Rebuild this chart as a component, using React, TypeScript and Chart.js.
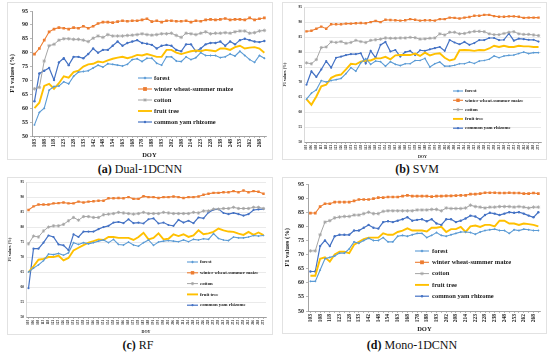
import React, { useEffect, useRef } from "react";
import { Chart, registerables } from "chart.js";

Chart.register(...registerables);

// ---------- data ----------
const doy = [103, 106, 108, 113, 118, 121, 123, 126, 128, 131, 133, 138, 142, 146, 148, 151, 154, 158, 163, 166, 168, 173, 178, 183, 188, 191, 193, 198, 202, 206, 208, 211, 214, 218, 223, 226, 228, 233, 238, 243, 248, 251, 253, 258, 262, 266, 268, 273];

const seriesNames = ["forest", "winter wheat-summer maize", "cotton", "fruit tree", "common yam rhizome"];
const yTicks = [50, 55, 60, 65, 70, 75, 80, 85, 90, 95];

// (a) Dual-1DCNN
const aForest = [54, 58.5, 60, 66.5, 67.8, 68, 69.5, 68.8, 71.5, 73, 73.2, 73.5, 74.5, 75.5, 74.8, 76, 75.8, 75.5, 75.2, 75.8, 77.5, 77.8, 76.8, 78, 78, 76.2, 75.5, 78.5, 78.5, 77, 76.8, 78.5, 77.5, 78.2, 80, 79, 79, 79, 78.2, 78.5, 79.5, 78.8, 80.5, 79, 77.5, 76.5, 79, 78];
const aWinter = [79.5, 81.5, 84.5, 87.5, 88.5, 89, 88.8, 88.5, 89, 88.8, 89.5, 88.8, 89.5, 90.5, 91, 91, 90.8, 91.2, 91.5, 91.3, 91.5, 91.5, 91.8, 92.2, 91.2, 91.5, 91, 91.5, 91.5, 91.3, 91.3, 91.5, 91, 91.5, 91.3, 91.8, 92, 91.8, 92, 92.3, 91.8, 92, 92, 91.8, 92.5, 91.8, 92.2, 92.5];
const aCotton = [67, 67.5, 77, 82.5, 83, 84.5, 85, 85, 84.8, 84.8, 84.5, 84, 85.2, 86, 85.5, 86.5, 86, 86, 86, 86.2, 86.3, 86.5, 86.8, 86.5, 86.3, 86.5, 86.8, 86.8, 87, 86.2, 85.5, 87, 86.8, 86.5, 87, 87.5, 86.8, 87, 87, 87.2, 87, 87.5, 87.8, 87.8, 87, 87.2, 87.8, 88];
const aFruit = [60, 62, 68, 68.8, 67, 69, 71.5, 71, 73, 73.5, 75, 75.8, 76, 76.8, 76.5, 77.2, 77.8, 78.2, 78.5, 78, 78.5, 79.2, 79, 79.5, 79, 78.5, 78.5, 81, 81, 80, 79.5, 80, 80.5, 80.8, 80.5, 81, 80.8, 80.5, 81.5, 81.5, 81, 82, 82.5, 81.5, 81.8, 82, 81.5, 80];
const aYam = [62.5, 72.5, 73.5, 74.5, 70.2, 76.5, 78, 75.5, 78.5, 78.5, 78, 79.5, 81.5, 80, 81, 81, 82.5, 84, 82.5, 83.5, 84, 84.5, 83.5, 83.2, 82.8, 81.5, 82.5, 82.8, 82.5, 81, 80.5, 83, 83, 80.5, 81.5, 83, 83.5, 83.5, 84, 82.5, 84, 83, 84.5, 85, 84.5, 84, 83.8, 84.2];

// (b) SVM
const bForest = [64.3, 66.3, 67.4, 70.5, 70, 70.5, 70.8, 71.2, 72.8, 74.8, 73.6, 76.4, 77.8, 75.9, 77, 76.8, 75.3, 76.8, 75.9, 75.5, 76.1, 76.1, 77.2, 77.2, 77.9, 75, 76.1, 76.7, 75.3, 75.3, 75.6, 76.1, 76.1, 76.7, 76.2, 77, 77.2, 77.6, 78.7, 78.1, 78.7, 78.9, 79, 79.5, 80, 79.5, 79.8, 79.8];
const bWinter = [86.9, 87.1, 87.8, 88.5, 87.8, 89.3, 89.3, 89.3, 89.5, 89.5, 89.6, 89.7, 89.6, 90, 90.4, 90, 90.8, 90.7, 90.6, 90.5, 90.6, 91, 90.8, 90.5, 90.6, 90.6, 90.5, 91, 91, 91.5, 91.4, 91.2, 91.5, 91.7, 92.1, 92.1, 92.4, 92.4, 92, 91.8, 91.8, 91.9, 91.9, 91.8, 91.4, 91.5, 91.5, 91.5];
const bCotton = [76.4, 76.1, 77.5, 81.5, 81.7, 83.4, 83.2, 83.5, 82.9, 83.2, 83.9, 83.5, 83.2, 83.9, 84.1, 84.3, 84.7, 84.6, 84.6, 84.7, 84.7, 84.9, 84.8, 84.3, 84.4, 84.6, 84.7, 86.1, 85.7, 86.6, 86.6, 86.1, 86.2, 86.6, 86.9, 86.9, 86.8, 86.1, 85.8, 85.8, 86.2, 86.6, 86.8, 86.1, 85.9, 85.9, 85.7, 85.5];
const bFruit = [64.3, 62.4, 65.2, 68.6, 69.1, 71.4, 72.2, 72.5, 74.2, 76.1, 75.9, 76.8, 77.2, 77.2, 77.9, 77.9, 78.4, 77.6, 78.9, 79, 79, 79, 79.5, 78.7, 79.8, 78.9, 79.4, 79.6, 78.1, 77.2, 77.6, 80.6, 80.7, 80.6, 80.4, 80.7, 80.6, 81.2, 82.1, 81.7, 82.1, 81.7, 81.7, 82.1, 81.9, 81.9, 81.7, 81.7];
const bYam = [69.1, 73.6, 71.7, 74.2, 77, 74.8, 78.1, 78.5, 79, 79.3, 79.3, 79.6, 76.2, 80.4, 78.1, 82.4, 83.4, 80.2, 80.7, 78.5, 80, 80.4, 79, 80.6, 80.4, 80.9, 81.3, 81.7, 80.4, 84, 83.2, 82.6, 83.4, 82.4, 83, 84, 84, 84.7, 84.7, 84, 84.1, 86.2, 83.8, 84.5, 84.3, 84.1, 84.1, 83.5];

// (c) RF
const cForest = [65, 66.3, 67.4, 68.8, 71, 70.8, 71.2, 70.6, 71.4, 74.8, 74.2, 74.8, 74.4, 74.8, 75.3, 75.7, 74.8, 75.9, 74.2, 74, 75, 74, 73.6, 74.8, 75.7, 73.9, 75, 75.3, 75.5, 75.3, 75.1, 75.7, 75.1, 75.9, 75.7, 76.1, 75.9, 77.8, 76.2, 75.7, 75.5, 76.7, 76.4, 76.4, 76.7, 77.2, 77, 77.2];
const cWinter = [85.7, 86.9, 87.5, 87.5, 87.5, 87.9, 88, 88.2, 87.9, 87.9, 88.5, 88.2, 88.5, 88.6, 88.8, 88.8, 89.6, 89.6, 89.7, 89.6, 90, 89.4, 89.4, 90.3, 90, 90, 89.7, 90, 90, 90.2, 90, 89.7, 90, 90, 90.2, 90.8, 91.1, 91.4, 91.4, 91.6, 91.6, 92, 91.6, 92.2, 91.6, 92, 91.8, 91.1];
const cCotton = [74.4, 77, 76.7, 78.7, 80, 80.4, 80.4, 80.9, 82.1, 83.2, 82.3, 83.5, 83.5, 83.2, 83.2, 84.1, 84.3, 84.5, 84.9, 84.7, 84.5, 84.3, 84.5, 84.9, 84.5, 84.5, 84.5, 84.9, 84.7, 84.5, 84.5, 84.5, 84.5, 84.9, 84.7, 85.4, 85.4, 86, 86, 86.2, 86.2, 86.6, 86.2, 86.2, 86.2, 86.6, 86.6, 86.2];
const cFruit = [65, 66.9, 69.1, 69.4, 70, 70, 70.5, 68.9, 69.7, 72.2, 73.1, 74, 74.8, 75.3, 75.9, 75.7, 76.7, 76.7, 76.4, 76.4, 76.4, 75.7, 76.7, 78.1, 75.9, 76.4, 77.9, 75.9, 76.1, 77.6, 77, 77.6, 76.7, 77.2, 78.9, 77.6, 77.9, 78.4, 79.5, 78.9, 78.5, 78.4, 77.8, 77.4, 78.4, 77.4, 78.2, 77.3];
const cYam = [59.6, 72.8, 72.8, 74.8, 77.2, 76.7, 74.2, 73.9, 72.3, 77.6, 76.7, 78.5, 78.5, 78.5, 79.3, 80, 80.4, 81.5, 81.7, 81.3, 82.6, 81.3, 81.5, 81.2, 82.6, 82.9, 81.2, 81.5, 80.7, 80.4, 82.4, 81.5, 82.1, 81.3, 83.2, 82.9, 84.9, 85.8, 86, 84.7, 84.3, 84.7, 84.3, 83.8, 84.3, 85.7, 85.9, 86];

// (d) Mono-1DCNN
const dForest = [60.5, 60.5, 64.5, 68.5, 69, 69.5, 70.5, 70.5, 72, 74.5, 74, 75, 75.8, 75, 75, 76, 74.5, 74.5, 76.5, 76.8, 76.5, 77, 77.5, 77.5, 76, 76.8, 77.8, 76.8, 76.5, 77, 77.5, 78, 78, 77.8, 77.2, 78, 78.5, 78.8, 79, 78.5, 78.5, 77.5, 78.8, 78.5, 79, 78.8, 78.5, 78.5];
const dWinter = [84.7, 84.7, 87, 88, 88, 88.6, 88.6, 88.6, 88.6, 89, 89.5, 89.5, 89.5, 89.8, 90.2, 90.2, 90.4, 90.4, 90.4, 90.7, 91, 90.7, 90.7, 90.7, 90.7, 90.5, 90.7, 90.7, 90.8, 90.8, 90.9, 91, 91, 91.4, 91.4, 91.6, 91.9, 91.9, 91.9, 91.8, 91.8, 91.9, 91.8, 91.8, 91.6, 91.6, 91.8, 91.6];
const dCotton = [71.3, 71.3, 77, 81.5, 82, 83, 83.3, 83.5, 83.5, 84, 84, 84.5, 85, 84.5, 84.5, 85.3, 85.5, 85.5, 85.5, 85.5, 85.5, 85.5, 85.8, 85.8, 85.8, 86, 86, 85.5, 86.5, 86.3, 86.3, 86.3, 86.5, 87.5, 87, 86.8, 86.5, 86.8, 86.8, 87, 87, 87, 86.8, 87, 86.8, 86.5, 86.8, 86.8];
const dFruit = [62.5, 62.5, 68.5, 69, 67.5, 70, 71, 71, 70.5, 73.5, 74.5, 75.5, 76, 76, 76, 77.5, 77, 77, 78, 78.5, 79.3, 78.5, 78.5, 78.5, 78.2, 79.5, 79.5, 79.8, 78, 79, 79, 79.8, 78, 80, 80.3, 79.8, 80.5, 80.5, 80, 82, 82, 81, 81, 80.5, 81, 80.8, 80.5, 80];
const dYam = [64, 64, 73, 75, 73, 76.5, 77, 77, 77, 78.5, 78.5, 79.5, 80.5, 79.5, 79.2, 81.5, 81.8, 81.5, 82, 82.5, 83.2, 82, 82.3, 82.5, 81.8, 82.5, 81, 80.5, 82.5, 82.5, 81.5, 82, 82.8, 83.8, 83.5, 82.5, 84, 84.8, 84.5, 84, 84.5, 85, 84.8, 85, 84.5, 83.8, 83.2, 85];

// ---------- styles ----------
const colors = ["#5B9BD5", "#ED7D31", "#A5A5A5", "#FFC000", "#4472C4"];
const pointStyles = ["rectRot", "rect", "star", "circle", "circle"];
const SERIF = '"Liberation Serif", "Times New Roman", serif';

function drawMarker(ctx: CanvasRenderingContext2D, style: string, x: number, y: number, r: number, color: string) {
  ctx.save();
  ctx.fillStyle = color;
  ctx.strokeStyle = color;
  ctx.lineWidth = 0.8;
  ctx.beginPath();
  if (style === "rect") {
    ctx.fillRect(x - r, y - r, 2 * r, 2 * r);
  } else if (style === "rectRot") {
    ctx.moveTo(x, y - r * 1.3);
    ctx.lineTo(x + r * 1.3, y);
    ctx.lineTo(x, y + r * 1.3);
    ctx.lineTo(x - r * 1.3, y);
    ctx.closePath();
    ctx.fill();
  } else if (style === "star") {
    for (let k = 0; k < 4; k++) {
      const a = (k * Math.PI) / 4;
      ctx.moveTo(x + Math.cos(a) * r, y + Math.sin(a) * r);
      ctx.lineTo(x - Math.cos(a) * r, y - Math.sin(a) * r);
    }
    ctx.stroke();
  } else {
    ctx.arc(x, y, r, 0, Math.PI * 2);
    ctx.fill();
  }
  ctx.restore();
}

const insideLegend = {
  id: "insideLegend",
  afterDraw(chart: any, _args: any, opts: any) {
    if (!opts || opts.x === undefined) return;
    const ctx: CanvasRenderingContext2D = chart.ctx;
    ctx.save();
    chart.data.datasets.forEach((ds: any, i: number) => {
      const y = opts.y + i * opts.row;
      ctx.strokeStyle = ds.borderColor;
      ctx.lineWidth = ds.borderWidth;
      ctx.beginPath();
      ctx.moveTo(opts.x, y);
      ctx.lineTo(opts.x + opts.len, y);
      ctx.stroke();
      if (ds.pointRadius > 0) {
        drawMarker(ctx, ds.pointStyle, opts.x + opts.len / 2, y, ds.pointRadius, ds.borderColor);
      }
      ctx.fillStyle = "#222";
      ctx.font = `bold ${opts.size}px ${SERIF}`;
      ctx.textBaseline = "middle";
      ctx.textAlign = "left";
      ctx.fillText(seriesNames[i], opts.textX, y);
    });
    ctx.restore();
  },
};

type PanelSpec = {
  left: number;
  top: number;
  width: number;
  height: number;
  series: number[][];
  yAxisWidth: number;
  xAxisHeight: number;
  padTop: number;
  padRight: number;
  tickSize: number;
  xTickSize: number;
  titleSize: number;
  everyOther: boolean;
  grid: boolean;
  markerScale: number;
  lineScale: number;
  legend: { x: number; y: number; row: number; len: number; textX: number; size: number };
};

function Panel({ spec }: { spec: PanelSpec }) {
  const ref = useRef<HTMLCanvasElement | null>(null);
  useEffect(() => {
    if (!ref.current) return;
    const s = spec;
    const radii = [1.2, 1.9, 1.8, 0, 1.2].map((r) => r * s.markerScale);
    const widths = [1.1, 1.1, 1.0, 1.9, 1.2].map((w) => w * s.lineScale);
    const chart = new Chart(ref.current, {
      type: "line",
      data: {
        labels: doy.map(String),
        datasets: s.series.map((vals, i) => ({
          label: seriesNames[i],
          data: vals,
          borderColor: colors[i],
          backgroundColor: colors[i],
          borderWidth: widths[i],
          pointStyle: pointStyles[i] as any,
          pointRadius: radii[i],
          pointBorderWidth: i === 2 ? 0.8 : 0,
          pointHoverRadius: radii[i],
          tension: 0,
          fill: false,
        })),
      },
      options: {
        responsive: false,
        animation: false,
        devicePixelRatio: 1,
        layout: { padding: { top: s.padTop, right: s.padRight, left: 0, bottom: 0 } },
        plugins: {
          legend: { display: false },
          tooltip: { enabled: false },
          insideLegend: s.legend,
        } as any,
        scales: {
          x: {
            type: "category",
            offset: true,
            border: { display: true, color: "#8c8c8c", width: 0.8 },
            grid: { display: true, drawOnChartArea: false, drawTicks: true, tickLength: 2, color: "#8c8c8c", lineWidth: 0.6 },
            ticks: {
              autoSkip: false,
              maxRotation: 90,
              minRotation: 90,
              padding: 1,
              color: "#222",
              font: { family: SERIF, size: s.xTickSize, weight: "bold" },
              callback: (_v: any, i: number) => (s.everyOther ? (i % 2 === 0 ? String(doy[i]) : "") : String(doy[i])),
            },
            title: { display: true, text: "DOY", color: "#222", padding: 0, font: { family: SERIF, size: s.titleSize, weight: "bold" } },
            afterFit: (scale: any) => {
              scale.height = s.xAxisHeight;
            },
          },
          y: {
            min: 50,
            max: 95,
            afterBuildTicks: (scale: any) => {
              scale.ticks = yTicks.map((v) => ({ value: v }));
            },
            border: { display: true, color: s.grid ? "#d0d0d0" : "#8c8c8c", width: 0.8 },
            grid: {
              display: true,
              drawOnChartArea: s.grid,
              drawTicks: !s.grid,
              tickLength: 2,
              color: s.grid ? "#dcdcdc" : "#8c8c8c",
              lineWidth: 0.6,
            },
            ticks: { padding: 2, color: "#222", font: { family: SERIF, size: s.tickSize, weight: "bold" } },
            title: { display: true, text: "F1 values (%)", color: "#222", padding: 0, font: { family: SERIF, size: s.titleSize, weight: "bold" } },
            afterFit: (scale: any) => {
              scale.width = s.yAxisWidth;
            },
          },
        },
      } as any,
      plugins: [insideLegend as any],
    });
    return () => chart.destroy();
  }, [spec]);
  return (
    <div
      style={{
        position: "absolute",
        left: spec.left - 1,
        top: spec.top - 1,
        width: spec.width,
        height: spec.height,
        border: "1px solid #e2e2e2",
      }}
    >
      <canvas ref={ref} width={spec.width} height={spec.height} style={{ display: "block", width: spec.width, height: spec.height }} />
    </div>
  );
}

const panelA: PanelSpec = {
  left: 8, top: 3, width: 264, height: 156,
  series: [aForest, aWinter, aCotton, aFruit, aYam],
  yAxisWidth: 24, xAxisHeight: 23, padTop: 8, padRight: 4,
  tickSize: 6, xTickSize: 5.5, titleSize: 6.5, everyOther: true, grid: false,
  markerScale: 1, lineScale: 1,
  legend: { x: 130, y: 75, row: 11, len: 14, textX: 146, size: 6.5 },
};
const panelB: PanelSpec = {
  left: 283, top: 3, width: 263, height: 156,
  series: [bForest, bWinter, bCotton, bFruit, bYam],
  yAxisWidth: 21, xAxisHeight: 17, padTop: 3, padRight: 5,
  tickSize: 3.5, xTickSize: 3.2, titleSize: 4, everyOther: false, grid: true,
  markerScale: 0.9, lineScale: 1,
  legend: { x: 170, y: 88, row: 9.3, len: 10, textX: 182, size: 4.8 },
};
const panelC: PanelSpec = {
  left: 8, top: 178, width: 264, height: 156,
  series: [cForest, cWinter, cCotton, cFruit, cYam],
  yAxisWidth: 18, xAxisHeight: 17, padTop: 3, padRight: 6,
  tickSize: 3.5, xTickSize: 3.2, titleSize: 4, everyOther: false, grid: true,
  markerScale: 0.9, lineScale: 1,
  legend: { x: 179, y: 84, row: 10.8, len: 11, textX: 192, size: 4.8 },
};
const panelD: PanelSpec = {
  left: 283, top: 178, width: 263, height: 155,
  series: [dForest, dWinter, dCotton, dFruit, dYam],
  yAxisWidth: 25, xAxisHeight: 22, padTop: 6, padRight: 5,
  tickSize: 6, xTickSize: 5.5, titleSize: 6.5, everyOther: true, grid: false,
  markerScale: 1, lineScale: 1,
  legend: { x: 132, y: 73, row: 11.3, len: 14, textX: 149, size: 6.5 },
};

const captionStyle = (cx: number, cy: number): React.CSSProperties => ({
  position: "absolute",
  left: cx - 100,
  top: cy - 8,
  width: 200,
  textAlign: "center",
  fontFamily: SERIF,
  fontSize: 12,
  lineHeight: "16px",
  color: "#111",
  whiteSpace: "nowrap",
});

export default function App() {
  return (
    <div style={{ position: "absolute", left: 0, top: 0, width: 550, height: 353, background: "#fff", overflow: "hidden" }}>
      <Panel spec={panelA} />
      <Panel spec={panelB} />
      <Panel spec={panelC} />
      <Panel spec={panelD} />
      <div style={captionStyle(140, 169)}><b>(a)</b> Dual-1DCNN</div>
      <div style={captionStyle(417, 169)}><b>(b)</b> SVM</div>
      <div style={captionStyle(138, 345)}><b>(c)</b> RF</div>
      <div style={captionStyle(412, 345)}><b>(d)</b> Mono-1DCNN</div>
    </div>
  );
}
